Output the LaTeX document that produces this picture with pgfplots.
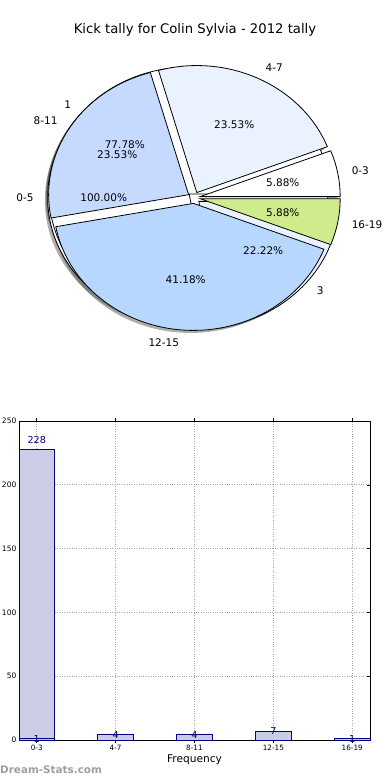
\documentclass[border=0pt]{standalone}
\usepackage{pgfplots}
\pgfplotsset{compat=1.18}
\usepackage{fontspec}
\setmainfont{DejaVu Sans}
\definecolor{c2}{HTML}{EAF2FF}
\definecolor{c3}{HTML}{C6DAFF}
\definecolor{c4}{HTML}{B7D7FF}
\definecolor{c5}{HTML}{CFEB8C}
\definecolor{barfill}{HTML}{CCCCE6}
\definecolor{navy}{HTML}{000080}
\newcommand\lblfont{\fontsize{10.5bp}{12bp}\selectfont}
\def\ex{0.045}
\def\rx{140bp}
\def\ry{127bp}
% pie data: value/colour/label
\def\mainpie{1/white/0-3, 4/c2/4-7, 4/c3/8-11, 7/c4/12-15, 1/c5/16-19}
\def\pieB{7/white/1, 2/c2/3}
\def\pieC{1/white/0-5}
\newcommand\pietotal[1]{\gdef\tot{0}\foreach \v/\col/\lab in #1{\pgfmathsetmacro\tmp{\tot+\v}\xdef\tot{\tmp}}}
\newcommand\pie[4]{%
 \pietotal{#1}\gdef\cum{0}%
 \foreach \v/\col/\lab in #1{%
  \pgfmathsetmacro\angA{360*\cum/\tot}%
  \pgfmathsetmacro\angB{360*(\cum+\v)/\tot}%
  \pgfmathsetmacro\mid{(\angA+\angB)/2}%
  \pgfmathsetmacro\cx{\ex*cos(\mid)+#2}%
  \pgfmathsetmacro\cy{\ex*sin(\mid)+#3}%
  \pgfmathsetmacro\px{\cx+cos(\angA)}%
  \pgfmathsetmacro\py{\cy+sin(\angA)}%
  \pgfmathsetmacro\spn{\angB-\angA}%
  \ifdim\spn pt>359.9pt
   \edef\temp{\noexpand\path[#4] (axis cs:\px,\py) arc[start angle=\angA,end angle=\angB,x radius=\rx,y radius=\ry] -- cycle;}%
  \else
   \edef\temp{\noexpand\path[#4] (axis cs:\cx,\cy) -- (axis cs:\px,\py) arc[start angle=\angA,end angle=\angB,x radius=\rx,y radius=\ry] -- cycle;}%
  \fi
  \temp
  \pgfmathsetmacro\tmp{\cum+\v}\xdef\cum{\tmp}%
 }}
\newcommand\pielabels[1]{%
 \pietotal{#1}\gdef\cum{0}%
 \foreach \v/\col/\lab in #1{%
  \pgfmathsetmacro\angA{360*\cum/\tot}%
  \pgfmathsetmacro\angB{360*(\cum+\v)/\tot}%
  \pgfmathsetmacro\mid{(\angA+\angB)/2}%
  \pgfmathsetmacro\lx{(\ex+1.1)*cos(\mid)}%
  \pgfmathsetmacro\ly{(\ex+1.1)*sin(\mid)}%
  \pgfmathsetmacro\qx{(\ex+0.6)*cos(\mid)}%
  \pgfmathsetmacro\qy{(\ex+0.6)*sin(\mid)}%
  \pgfmathsetmacro\pct{100*\v/\tot}%
  \pgfmathsetmacro\cm{cos(\mid)}%
  \ifdim\cm pt>0pt \def\anc{west}\else\def\anc{east}\fi
  \edef\temp{\noexpand\node[anchor=\anc,font=\noexpand\lblfont,inner sep=0pt] at (axis cs:\lx,\ly) {\lab};
   \noexpand\node[font=\noexpand\lblfont,inner sep=0pt] at (axis cs:\qx,\qy) {\noexpand\pgfmathprintnumber[fixed,fixed zerofill,precision=2,assume math mode=true]{\pct}\noexpand\%};}%
  \temp
  \pgfmathsetmacro\tmp{\cum+\v}\xdef\cum{\tmp}%
 }}
\begin{document}
\begin{tikzpicture}
\path[use as bounding box] (0,0) rectangle (390bp,780bp);
% ---------- pie ----------
\begin{axis}[at={(-2bp,385.45bp)}, anchor=south west, x=140bp, y=127bp,
  xmin=-1.4, xmax=1.4, ymin=-1.55, ymax=1.55, hide axis, clip=false]
\pie{\pieC}{-0.02}{-0.02}{fill=black!70,opacity=0.45}
\pie{\pieB}{-0.02}{-0.02}{fill=black!70,opacity=0.45}
\pie{\mainpie}{-0.02}{-0.02}{fill=black!70,opacity=0.45}
\pie{\pieC}{0}{0}{fill=\col,draw=black,line width=0.8bp}
\pie{\pieB}{0}{0}{fill=\col,draw=black,line width=0.8bp}
\pie{\mainpie}{0}{0}{fill=\col,draw=black,line width=0.8bp}
\pielabels{\mainpie}
\pielabels{\pieB}
\pielabels{\pieC}
\node[font=\fontsize{13.2bp}{15bp}\selectfont] at (axis cs:0.007,1.3205) {Kick tally for Colin Sylvia - 2012 tally};
\end{axis}
% ---------- bars ----------
\begin{axis}[at={(19bp,40bp)}, anchor=south west, width=351bp, height=319bp, scale only axis,
  xmin=-0.225, xmax=4.225, ymin=0, ymax=250,
  xtick={0,1,2,3,4}, xticklabels={0-3,4-7,8-11,12-15,16-19},
  ytick={0,50,100,150,200,250},
  grid=major, grid style={dotted, black!35, line width=0.6bp},
  tick align=inside, major tick length=3bp,
  tick style={black, line width=0.5bp},
  xticklabel style={font=\fontsize{7.3bp}{8bp}\selectfont, inner sep=1bp, yshift=-1bp},
  yticklabel style={font=\fontsize{7.5bp}{8bp}\selectfont, inner sep=1bp, xshift=-1.5bp},
  /pgf/number format/assume math mode=true,
  xlabel={Frequency},
  xlabel style={font=\fontsize{10.6bp}{12bp}\selectfont, at={(axis description cs:0.5,0)}, anchor=center, yshift=-20bp},
  axis line style={black, line width=0.8bp},
  ybar, bar width=0.45, clip=false]
\addplot[bar shift=0pt, fill=barfill, draw=navy, line width=0.8bp] coordinates {(0,228) (1,4) (2,4) (3,7) (4,1)};
\addplot[bar shift=0pt, fill=barfill, draw=navy, line width=0.8bp] coordinates {(0,1)};
\addplot[bar shift=0pt, draw=none, fill=none, point meta=explicit symbolic,
  nodes near coords, nodes near coords align={center},
  every node near coord/.append style={font=\fontsize{9.6bp}{11bp}\selectfont, text=navy, inner sep=0pt}]
  coordinates {(0,234.8)[228] (0,1.03)[1] (1,4.12)[4] (2,4.12)[4] (3,7.21)[7] (4,1.03)[1]};
\end{axis}
\node[anchor=west, inner sep=0pt, text=black!38, font=\bfseries\fontsize{10.4bp}{12bp}\selectfont] at (0bp,10bp) {Dream-Stats.com};
\end{tikzpicture}
\end{document}
